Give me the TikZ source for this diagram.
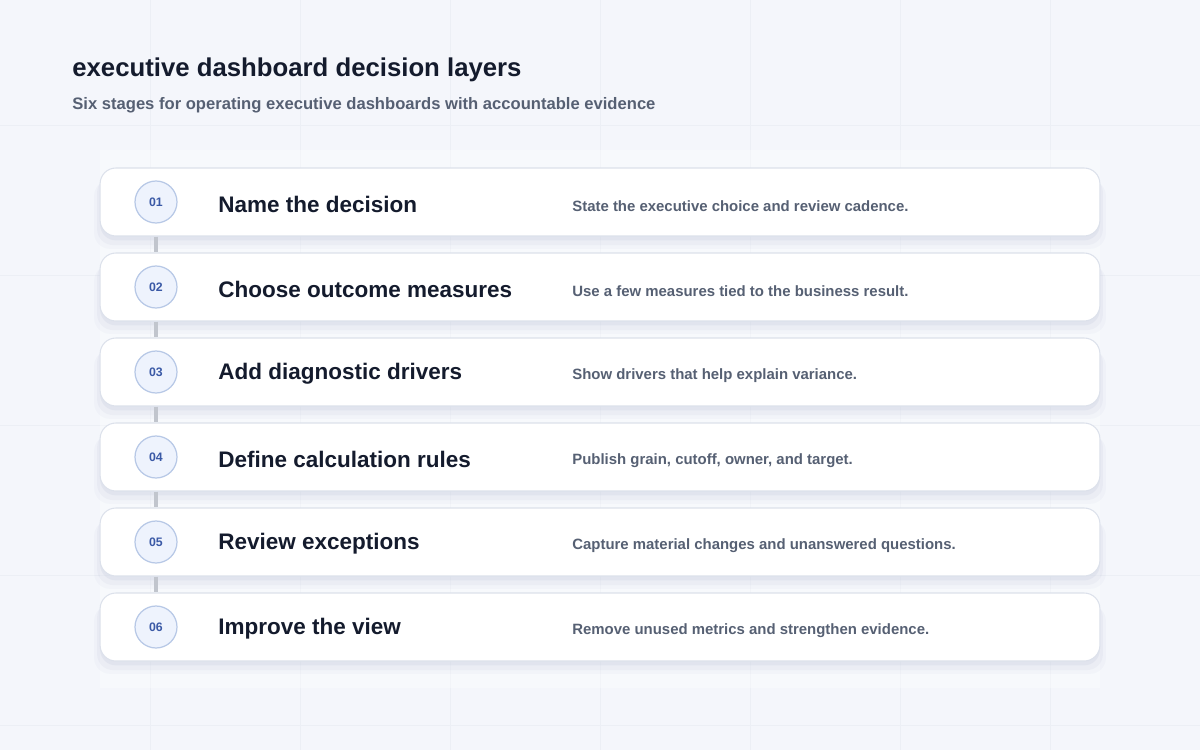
\documentclass[tikz,border=0pt]{standalone}
\usepackage{fontspec}
\setmainfont{Liberation Sans}
\usetikzlibrary{backgrounds,shadows}
\definecolor{pagebg}{HTML}{F4F6FB}
\definecolor{gridline}{HTML}{ECEFF5}
\definecolor{inkdark}{HTML}{141B2D}
\definecolor{inkgrey}{HTML}{566073}
\definecolor{cardedge}{HTML}{DCE1EB}
\definecolor{badgefill}{HTML}{EEF3FD}
\definecolor{badgeedge}{HTML}{B7C8E6}
\definecolor{badgeink}{HTML}{3A59A6}
\definecolor{linkgrey}{HTML}{C1C5CD}
\definecolor{shadowink}{HTML}{6A7AA8}
\tikzset{
	card/.style={
		shape=rectangle,
		rounded corners=9pt,
		minimum width=20cm,
		minimum height=1.36cm,
		fill=white,
		draw=cardedge,
		line width=0.6pt,
		general shadow={fill=shadowink, opacity=0.035, shadow yshift=-7pt, shadow scale=1.012},
		general shadow={fill=shadowink, opacity=0.05, shadow yshift=-5pt, shadow scale=1.006},
		general shadow={fill=shadowink, opacity=0.07, shadow yshift=-2.5pt},
	},
	badge/.style={
		shape=circle,
		minimum size=0.84cm,
		inner sep=0pt,
		fill=badgefill,
		draw=badgeedge,
		line width=0.7pt,
		text=badgeink,
		font=\bfseries\fontsize{7}{8}\selectfont,
	},
	stagetitle/.style={anchor=west, inner sep=0pt, text=inkdark, font=\bfseries\fontsize{12.8}{14}\selectfont},
	stagenote/.style={anchor=west, inner sep=0pt, text=inkgrey, font=\bfseries\fontsize{8.5}{10}\selectfont},
	link/.style={line width=2.2pt, linkgrey},
}
\begin{document}
\begin{tikzpicture}[x=0.02cm, y=-0.02cm]
\begin{pgfonlayer}{background}
\fill[pagebg] (0,0) rectangle (1200,750);
\useasboundingbox (0,0) rectangle (1200,750);
\foreach \gx in {150,300,...,1050} \draw[gridline, line width=0.5pt] (\gx,0) -- (\gx,750);
\foreach \gy in {125,275,...,725} \draw[gridline, line width=0.5pt] (0,\gy) -- (1200,\gy);
\fill[white, opacity=0.35] (100,150) rectangle (1100,688);
\end{pgfonlayer}

% heading
\node[anchor=base west, inner sep=0pt, text=inkdark, font=\bfseries\fontsize{14.65}{17}\selectfont] (heading) at (72,77) {executive dashboard decision layers};
\node[anchor=base west, inner sep=0pt, text=inkgrey, font=\bfseries\fontsize{9.45}{11}\selectfont] (subheading) at (72,110) {Six stages for operating executive dashboards with accountable evidence};

% stage cards
\node[card] (c1) at (600,202) {};
\node[card] (c2) at (600,287) {};
\node[card] (c3) at (600,372) {};
\node[card] (c4) at (600,457) {};
\node[card] (c5) at (600,542) {};
\node[card] (c6) at (600,627) {};

\node[badge] (n1) at (156,202) {01};
\node[badge] (n2) at (156,287) {02};
\node[badge] (n3) at (156,372) {03};
\node[badge] (n4) at (156,457) {04};
\node[badge] (n5) at (156,542) {05};
\node[badge] (n6) at (156,627) {06};

\node[stagetitle] (t1) at (218,204) {Name the decision};
\node[stagetitle] (t2) at (218,289) {Choose outcome measures};
\node[stagetitle] (t3) at (218,374) {Add diagnostic drivers};
\node[stagetitle] (t4) at (218,459) {Define calculation rules};
\node[stagetitle] (t5) at (218,544) {Review exceptions};
\node[stagetitle] (t6) at (218,629) {Improve the view};

\node[stagenote] (d1) at (572,206) {State the executive choice and review cadence.};
\node[stagenote] (d2) at (572,291) {Use a few measures tied to the business result.};
\node[stagenote] (d3) at (572,376) {Show drivers that help explain variance.};
\node[stagenote] (d4) at (572,461) {Publish grain, cutoff, owner, and target.};
\node[stagenote] (d5) at (572,546) {Capture material changes and unanswered questions.};
\node[stagenote] (d6) at (572,631) {Remove unused metrics and strengthen evidence.};

% links between the badges, seen in the gaps
\draw[link] (n1 |- c1.south) -- (n2 |- c2.north);
\draw[link] (n2 |- c2.south) -- (n3 |- c3.north);
\draw[link] (n3 |- c3.south) -- (n4 |- c4.north);
\draw[link] (n4 |- c4.south) -- (n5 |- c5.north);
\draw[link] (n5 |- c5.south) -- (n6 |- c6.north);
\end{tikzpicture}
\end{document}
